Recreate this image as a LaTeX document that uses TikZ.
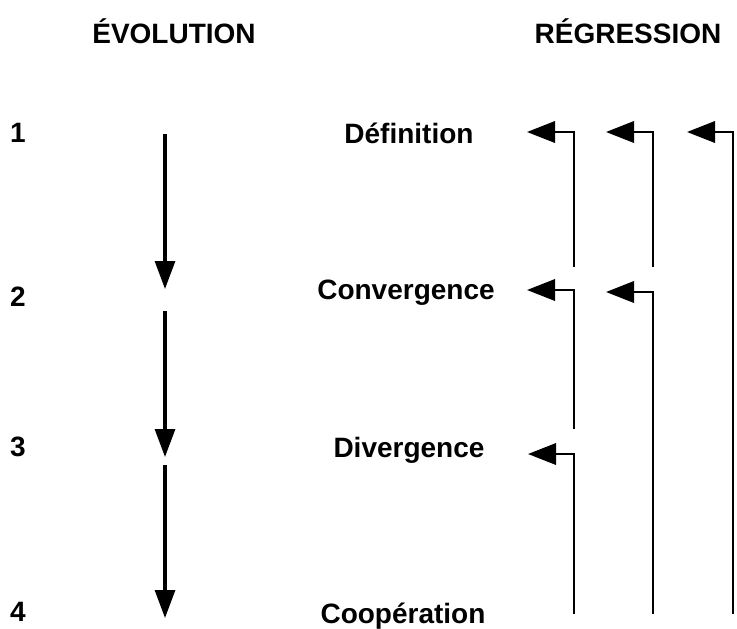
\documentclass[tikz,border=0pt]{standalone}
\usepackage{fontspec}
\setmainfont{Liberation Sans}
\usetikzlibrary{arrows.meta}
\tikzstyle{evo} = [line width=2.3pt, -{Triangle[length=21pt,width=15pt]}]
\tikzstyle{reg} = [line width=1.9pt, -{Triangle[length=21pt,width=16pt]}]

\begin{document}
\begin{tikzpicture}[
  x=0.75pt, y=-0.75pt,
  every node/.style={anchor=base, inner sep=0pt, font=\fontsize{21}{25}\selectfont\bfseries},
]
\useasboundingbox (0,0) rectangle (737,628);
% titles
\node (tevo) at (174,43) {ÉVOLUTION};
\node (treg) at (628,43) {RÉGRESSION};
% stages
\node (n1) at (18,142) {1};
\node (n2) at (18,306) {2};
\node (n3) at (18,456) {3};
\node (n4) at (18,621) {4};
\node (def) at (409,143) {Définition};
\node (conv) at (406,299) {Convergence};
\node (div) at (409,457) {Divergence};
\node (coop) at (403,623) {Coopération};
% evolution
\coordinate (e1) at (165,134);
\coordinate (e2) at (165,289);
\coordinate (e3) at (165,311);
\coordinate (e4) at (165,457);
\coordinate (e5) at (165,465);
\coordinate (e6) at (165,618);
\draw[evo] (e1) -- (e2);
\draw[evo] (e3) -- (e4);
\draw[evo] (e5) -- (e6);
% regression
\coordinate (sa1) at (574,267);
\coordinate (sb1) at (653,267);
\coordinate (sc1) at (733,614);
\coordinate (sa2) at (574,429);
\coordinate (sb2) at (653,614);
\coordinate (sa3) at (574,614);
\coordinate (r1) at (527,132);
\coordinate (r2) at (606,132);
\coordinate (r3) at (687,132);
\coordinate (r4) at (527,290);
\coordinate (r5) at (606,292);
\coordinate (r6) at (528,454);
\draw[reg] (sa1) |- (r1);
\draw[reg] (sb1) |- (r2);
\draw[reg] (sc1) |- (r3);
\draw[reg] (sa2) |- (r4);
\draw[reg] (sb2) |- (r5);
\draw[reg] (sa3) |- (r6);
\end{tikzpicture}
\end{document}
